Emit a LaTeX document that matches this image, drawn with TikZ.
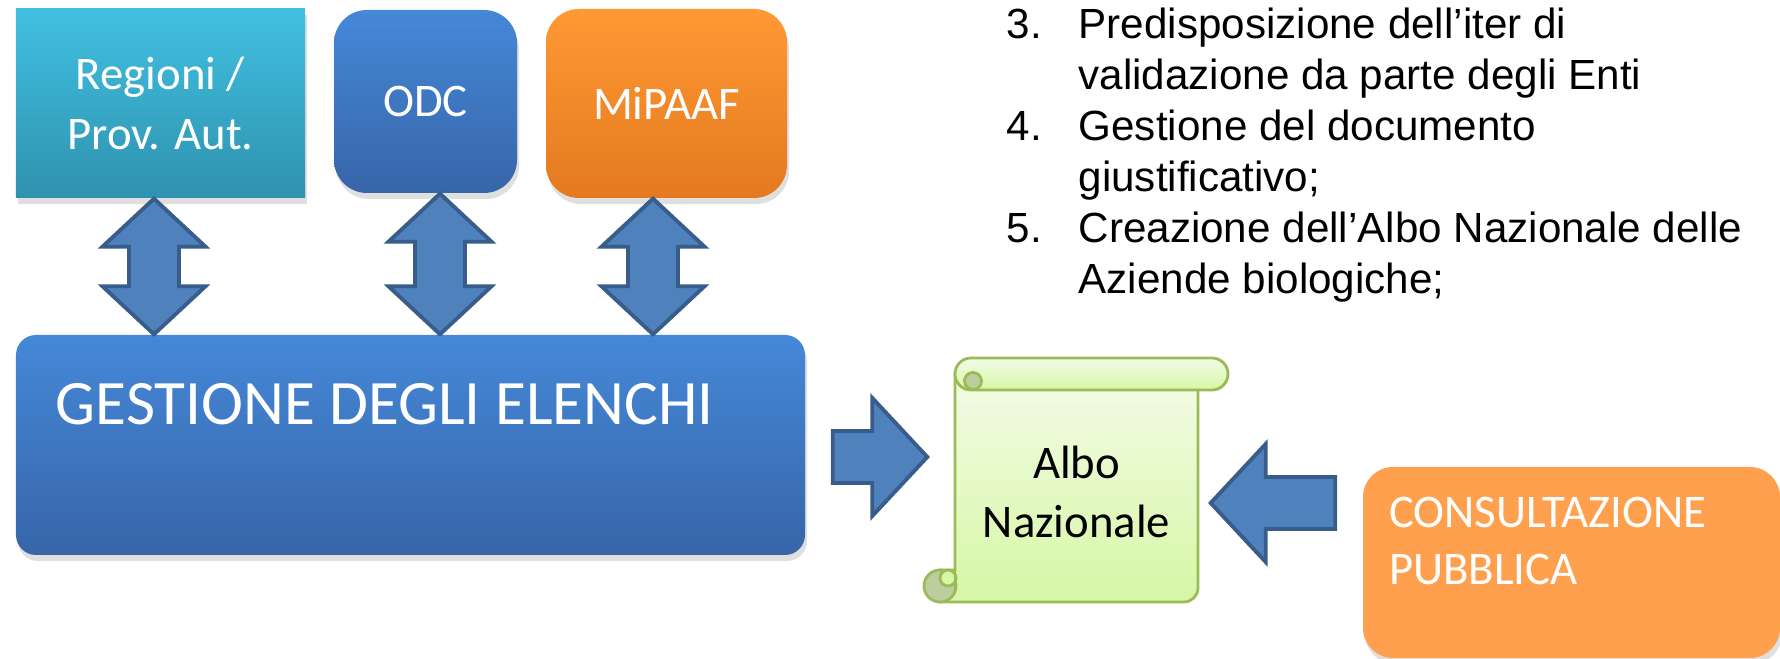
\documentclass[tikz,border=0pt]{standalone}
\usepackage{fontspec}
\setmainfont{Carlito}
\newfontfamily\listfont{Liberation Sans}
\usetikzlibrary{positioning,calc,shadows}

\definecolor{cyantop}{RGB}{66,192,226}
\definecolor{cyanbot}{RGB}{46,146,174}
\definecolor{bluetop}{RGB}{69,136,216}
\definecolor{bluebot}{RGB}{55,101,168}
\definecolor{orangetop}{RGB}{255,153,51}
\definecolor{orangebot}{RGB}{228,121,32}
\definecolor{arrowfill}{RGB}{79,129,189}
\definecolor{arrowline}{RGB}{56,93,138}
\definecolor{scrolltop}{RGB}{243,251,230}
\definecolor{scrollbot}{RGB}{214,247,165}
\definecolor{scrollline}{RGB}{155,187,89}
\definecolor{scrolldark}{RGB}{188,206,158}
\definecolor{consultfill}{RGB}{255,160,78}

\tikzset{
  box/.style={inner sep=0pt, text=white, align=center,
    font=\fontsize{13.3}{17}\selectfont,
    drop shadow={opacity=0.25, shadow xshift=0.02cm, shadow yshift=-0.06cm}},
  boxtext/.style={inner sep=0pt, text=white, align=left},
  fatarrow/.style={fill=arrowfill, draw=arrowline, line width=1.1pt, line join=miter},
  scroll/.style={draw=scrollline, line width=0.8pt, top color=scrolltop, bottom color=scrollbot},
  curl/.style={draw=scrollline, line width=0.8pt}
}

% double arrow going down from #1 to the height of #2
\newcommand{\varrows}[2]{%
  \path[fatarrow] let \p1=(#1), \p2=(#2) in
    (\x1,\y1) -- (\x1+0.515cm,\y1-0.48cm) -- (\x1+0.25cm,\y1-0.48cm)
    -- (\x1+0.25cm,\y2+0.48cm) -- (\x1+0.515cm,\y2+0.48cm) -- (\x1,\y2)
    -- (\x1-0.515cm,\y2+0.48cm) -- (\x1-0.25cm,\y2+0.48cm)
    -- (\x1-0.25cm,\y1-0.48cm) -- (\x1-0.515cm,\y1-0.48cm) -- cycle;}

% single arrow from #1 to the x of #2
\newcommand{\harrow}[2]{%
  \path[fatarrow] let \p1=(#1), \p2=(#2), \n1={sign(\x1-\x2)*0.55cm} in
    (\x1,{\y1+0.26cm}) -- ({\x2+\n1},{\y1+0.26cm}) -- ({\x2+\n1},{\y1+0.59cm})
    -- (\x2,\y1) -- ({\x2+\n1},{\y1-0.59cm}) -- ({\x2+\n1},{\y1-0.26cm})
    -- (\x1,{\y1-0.26cm}) -- cycle;}

\begin{document}
\begin{tikzpicture}
\useasboundingbox (0,0) rectangle (17.8,-6.59);

% top boxes
\node[box, top color=cyantop, bottom color=cyanbot, minimum width=2.89cm, minimum height=1.89cm] (regioni) at (1.605,-1.035) {Regioni /\\Prov. Aut.};
\node[box, rounded corners=0.33cm, top color=bluetop, bottom color=bluebot, minimum width=1.83cm, minimum height=1.83cm] (odc) at (4.255,-1.015) {ODC};
\node[box, rounded corners=0.33cm, top color=orangetop, bottom color=orangebot, minimum width=2.41cm, minimum height=1.89cm] (mipaaf) at (6.665,-1.035) {MiPAAF};

% main box
\node[box, rounded corners=0.2cm, top color=bluetop, bottom color=bluebot, minimum width=7.89cm, minimum height=2.20cm] (gestione) at (4.105,-4.45) {};
\node[boxtext, font=\fontsize{18}{22}\selectfont, right=0.40cm of gestione.west, yshift=0.41cm] (gestionetext) {GESTIONE DEGLI ELENCHI};

% scroll
\draw[scroll] (11.98,-3.74) -- (11.98,-5.88) arc[start angle=0, end angle=-90, radius=0.14]
  -- (9.40,-6.02) -- (9.40,-5.70) -- (9.55,-5.70) -- (9.55,-3.74) -- cycle;
\filldraw[curl, fill=scrolldark] (9.40,-5.86) circle (0.16);
\filldraw[curl, fill=scrollbot] (9.48,-5.78) circle (0.08);
\draw[curl] (9.55,-5.70) -- (9.55,-5.92);
\draw[scroll] (9.71,-3.58) -- (12.12,-3.58) arc[start angle=90, end angle=-90, radius=0.16]
  -- (9.71,-3.90) arc[start angle=270, end angle=90, radius=0.16] -- cycle;
\filldraw[curl, fill=scrolldark] (9.73,-3.81) circle (0.085);
\node[inner sep=0pt, align=center, font=\fontsize{13.3}{17}\selectfont, minimum width=2.43cm, minimum height=2.12cm] (albo) at (10.765,-4.92) {Albo\\Nazionale};

% public box
\node[box, rounded corners=0.3cm, fill=consultfill, minimum width=4.17cm, minimum height=1.91cm] (consult) at (15.715,-5.625) {};
\node[boxtext, font=\fontsize{13.3}{16.2}\selectfont, right=0.26cm of consult.west, yshift=0.215cm] (consulttext) {CONSULTAZIONE\\PUBBLICA};

% arrows
\foreach \src/\dx in {regioni/-0.065, odc/0.145, mipaaf/-0.135}
  \varrows{$(\src.south)+(\dx,0)$}{gestione.north};
\harrow{$(gestione.east)+(0.27,-0.12)$}{$(albo.west)+(-0.27,0)$}
\harrow{$(consult.west)+(-0.27,0.595)$}{$(albo.east)+(0.12,0)$}

% list
\node[inner sep=0pt, anchor=north west, align=left, font=\listfont\fontsize{12}{14.5}\selectfont] (steps) at (10.06,-0.07)
  {\makebox[0.72cm][l]{3.}Predisposizione dell’iter di\\
   \hspace*{0.72cm}validazione da parte degli Enti\\
   \makebox[0.72cm][l]{4.}Gestione del documento\\
   \hspace*{0.72cm}giustificativo;\\
   \makebox[0.72cm][l]{5.}Creazione dell’Albo Nazionale delle\\
   \hspace*{0.72cm}Aziende biologiche;};
\end{tikzpicture}
\end{document}
